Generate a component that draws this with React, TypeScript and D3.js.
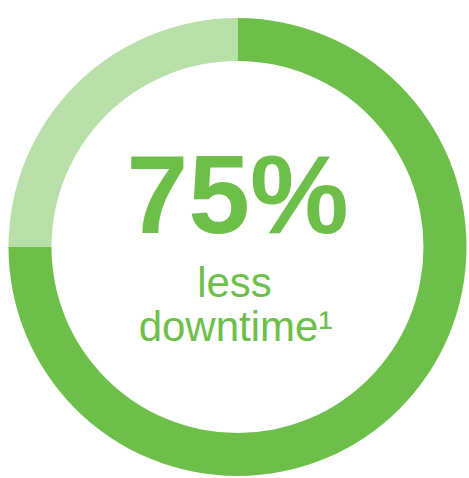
import React from "react";
import * as d3 from "d3";

const segments = ["reduced", "remaining"];
const values = [75, 25];
const colors = ["#6dbf4a", "#b8dfa7"];
const headline = "75%";
const subLines = ["less", "downtime¹"];

export default function App() {
  const width = 469;
  const height = 478;
  const cx = 237.5;
  const cy = 247;
  const outerR = 229;
  const innerR = 186;

  const pie = d3
    .pie<number>()
    .sort(null)
    .value((d) => d)
    .startAngle(0)
    .endAngle(2 * Math.PI);
  const arcs = pie(values);
  const arc = d3.arc<d3.PieArcDatum<number>>().innerRadius(innerR).outerRadius(outerR);

  return (
    <svg
      width={width}
      height={height}
      style={{ position: "absolute", left: 0, top: 0, display: "block" }}
    >
      <rect width={width} height={height} fill="#ffffff" />
      <g transform={`translate(${cx},${cy})`}>
        {arcs.map((a, i) => (
          <path key={segments[i]} d={arc(a) || ""} fill={colors[i]} />
        ))}
        <text
          x={0}
          y={-14}
          textAnchor="middle"
          fontFamily="'Liberation Sans', Arial, Helvetica, sans-serif"
          fontWeight={700}
          fontSize={111}
          fill={colors[0]}
        >
          {headline}
        </text>
        {subLines.map((t, i) => (
          <text
            key={t}
            x={i === 0 ? -3 : -2}
            y={50 + i * 44}
            textAnchor="middle"
            fontFamily="'Liberation Sans', Arial, Helvetica, sans-serif"
            fontWeight={400}
            fontSize={42}
            fill={colors[0]}
          >
            {t}
          </text>
        ))}
      </g>
    </svg>
  );
}
